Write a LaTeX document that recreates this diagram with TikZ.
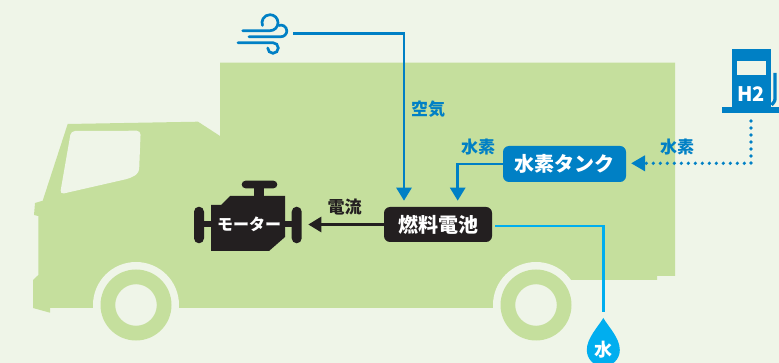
\documentclass[tikz,border=0pt]{standalone}
\usepackage{fontspec}
\newfontfamily\jp{Noto Sans CJK JP}
\usetikzlibrary{arrows.meta}
\definecolor{bgc}{HTML}{EFF5E8}
\definecolor{truckc}{HTML}{C5DF9D}
\definecolor{blu}{HTML}{0080C5}
\definecolor{aqua}{HTML}{00AEEF}
\definecolor{ink}{HTML}{231F20}

\begin{document}
\begin{tikzpicture}[x=1pt,y=-1pt,
  flow/.style={line width=2.7pt},
  tipend/.style={-{Triangle[length=13pt,width=15pt]}},
  box/.style={rounded corners=6pt, minimum height=36pt, inner xsep=6pt, text=white,
              font=\jp\bfseries\fontsize{20}{20}\selectfont},
  lbl/.style={font=\jp\bfseries\fontsize{17}{17}\selectfont, inner sep=0pt},
]
% canvas
\fill[bgc] (0,0) rectangle (779,363);
\useasboundingbox (0,0) rectangle (779,363);
\clip (0,0) rectangle (779,363);

% truck silhouette
\fill[truckc] (220,62.7) -- (675,62.7) -- (675,276) -- (657,276) -- (657,280)
  -- (536,280) -- (536,308) -- (50,308) -- (50,312.7) -- (33,308) -- (33,280)
  -- (38.3,275) -- (38.3,216) -- (34,215) -- (35,203) -- (42.7,200.7)
  -- (67.7,124) -- (198,121.7) -- (220,136) -- cycle;
% cab window
\fill[bgc, rounded corners=4pt] (60,194.3) -- (71,131) -- (140.7,130.7)
  -- (139,173) -- (130,178.3) -- cycle;
% wheels
\foreach \wx in {136,536}{
  \fill[bgc] (\wx,305) circle[radius=43];
  \fill[truckc, even odd rule] (\wx,305) circle[radius=35.5] (\wx,305) circle[radius=20.8];
}

% wind icon
\begin{scope}[blu, line width=2.7pt, line cap=round]
  \draw (242.7,30.7) -- (270,30.7) arc[start angle=90, end angle=-200, radius=8];
  \draw (249,36.7) -- (281,36.7) arc[start angle=90, end angle=-110, radius=5.8];
  \draw (238,42.7) -- (273,42.7) arc[start angle=-90, end angle=180, radius=5.3];
\end{scope}
\coordinate (windR) at (293,33.3);

% hydrogen pump
\fill[blu] (731.7,49.3) rectangle (770.7,108);
\fill[bgc] (737,60.7) rectangle (766,75);
\fill[blu] (721.7,106.7) rectangle (782,113.3);
\draw[blu, line width=3.3pt] (775,73) -- (775,97) .. controls (775,101) .. (771.5,105);
\node[font=\jp\bfseries\fontsize{20}{20}\selectfont, text=white, inner sep=0pt] (h2) at (751,94) {H2};
\coordinate (pumpB) at (751,121);

% motor icon
\begin{scope}[ink]
  \fill[rounded corners=3.8pt] (241.7,180.7) rectangle (277.3,188.3);
  \fill (254,187) rectangle (264,197);
  \fill (230,196) -- (285,196) -- (285,237) -- (269,251) -- (211,251)
        -- (211,205) -- (221,205) -- cycle;
  \fill[rounded corners=5pt] (194,206.7) rectangle (204,243.3);
  \fill[rounded corners=5pt] (291.7,206.7) rectangle (301.7,243.3);
  \fill (203,221) rectangle (212,227);
  \fill (284,221) rectangle (293,227);
\end{scope}
\node[text=white, font=\jp\bfseries\fontsize{16}{16}\selectfont, inner sep=0pt] (motor) at (249,224) {モーター};
\coordinate (motorIn) at (308.3,224.5);

% units
\node[box, fill=blu, minimum width=123pt] (tank) at (564.5,164) {水素タンク};
\node[box, fill=ink, minimum width=108pt, minimum height=35pt] (fc) at (438,224.5) {燃料電池};

% water drop
\coordinate (dropTop) at (603.3,311.7);
\fill[aqua] (603.3,318) .. controls (598,327) and (586.8,338) .. (586.8,350)
  arc[start angle=180, end angle=0, radius=16.5]
  .. controls (619.8,338) and (608.6,327) .. (603.3,318) -- cycle;
\node[text=white, font=\jp\bfseries\fontsize{18}{18}\selectfont, inner sep=0pt] (water) at (603.5,350) {水};

% connectors
\coordinate (airIn) at (404,200.7);
\coordinate (h2In) at (457.7,200.7);
\coordinate (tankIn) at (631,163.3);
\coordinate (fcOut) at (495,226);
\draw[flow, blu, tipend] (windR) -| (airIn);
\draw[flow, blu, tipend] (tank.west) -| (h2In);
\draw[blu, line width=3.6pt, line cap=round, dash pattern=on 0pt off 7pt,
      -{Triangle[length=14pt,width=15pt]}] (pumpB) |- (tankIn);
\draw[flow, ink, tipend] (fc.west) -- (motorIn);
\draw[flow, aqua] (fcOut) -| (dropTop);

% labels
\node[lbl, text=blu] (airL) at (428,109) {空気};
\node[lbl, text=blu] (h2L) at (478,147.5) {水素};
\node[lbl, text=blu] (h2R) at (677,147.5) {水素};
\node[lbl, text=ink] (curL) at (344.7,207.5) {電流};
\end{tikzpicture}
\end{document}
